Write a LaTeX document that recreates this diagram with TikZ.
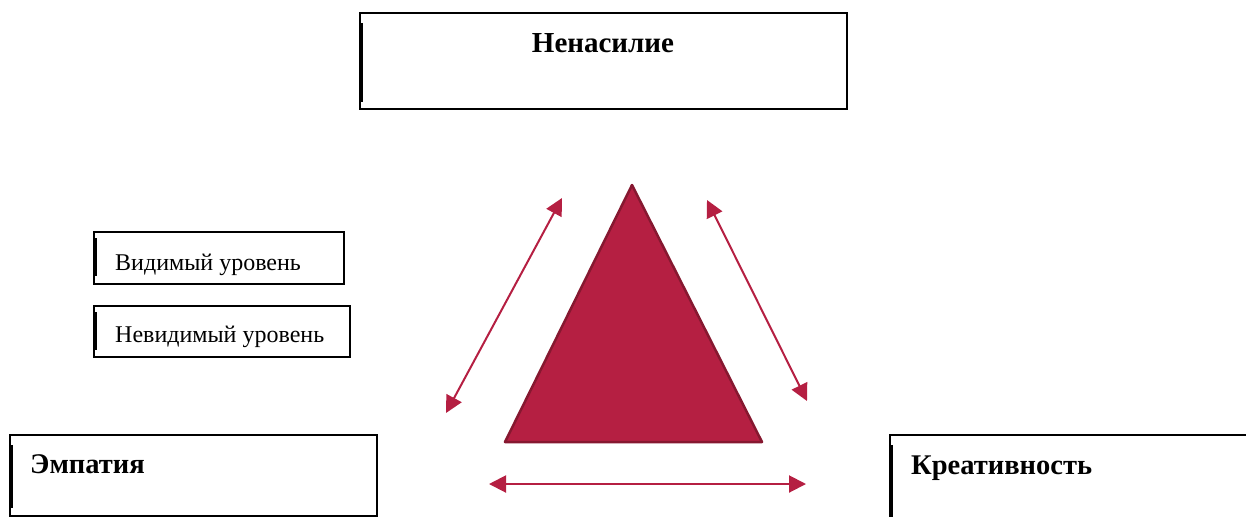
\documentclass[tikz,border=0pt]{standalone}
\usepackage{fontspec}
\setmainfont{Liberation Serif}
\usetikzlibrary{arrows.meta}
\definecolor{crim}{HTML}{B51F42}
\definecolor{crimdark}{HTML}{861830}
\tikzset{
  boxline/.style={draw=black, line width=1.4pt},
  thickedge/.style={draw=black, line width=3pt},
  bigtext/.style={font=\fontsize{28.5}{30}\selectfont\bfseries, inner sep=0pt, anchor=base west},
  smalltext/.style={font=\fontsize{24}{26}\selectfont, inner sep=0pt, anchor=base west},
  link/.style={draw=crim, line width=2pt, {Triangle[length=17pt,width=17pt]}-{Triangle[length=17pt,width=17pt]}, crim}
}
\begin{document}
\begin{tikzpicture}[x=1pt,y=1pt]
\useasboundingbox (0,0) rectangle (1246,-517);
% top box
\draw[boxline] (360,-13) rectangle (847,-109);
\draw[thickedge] (361,-23) -- (361,-102);
\node[font=\fontsize{29}{30}\selectfont\bfseries, inner sep=0pt, anchor=base] (t1) at (603,-52) {Ненасилие};
% small boxes
\draw[boxline] (94,-232) rectangle (344,-284);
\draw[thickedge] (95,-238) -- (95,-276);
\node[smalltext] (v1) at (115,-270) {Видимый уровень};
\draw[boxline] (94,-306) rectangle (350,-357);
\draw[thickedge] (95,-312) -- (95,-350);
\node[smalltext] (v2) at (115,-342) {Невидимый уровень};
% bottom left box
\draw[boxline] (10,-435) rectangle (377,-516);
\draw[thickedge] (11,-445) -- (11,-508);
\node[bigtext] (e) at (30,-473) {Эмпатия};
% bottom right box
\draw[boxline] (1246,-435) -- (890,-435) -- (890,-517);
\draw[thickedge] (891,-445) -- (891,-517);
\node[bigtext] (k) at (911,-474) {Креативность};
% triangle
\coordinate (A) at (632,-185);
\coordinate (B) at (505,-442);
\coordinate (C) at (762,-442);
\filldraw[fill=crim, draw=crimdark, line width=2.5pt, line join=round] (A) -- (B) -- (C) -- cycle;
% arrows
\coordinate (l1) at (446,-413);
\coordinate (l2) at (562,-198);
\coordinate (r1) at (707,-200);
\coordinate (r2) at (807,-401);
\coordinate (b1) at (489,-484);
\coordinate (b2) at (806,-484);
\draw[link] (l1) -- (l2);
\draw[link] (r1) -- (r2);
\draw[link] (b1) -- (b2);
\end{tikzpicture}
\end{document}
